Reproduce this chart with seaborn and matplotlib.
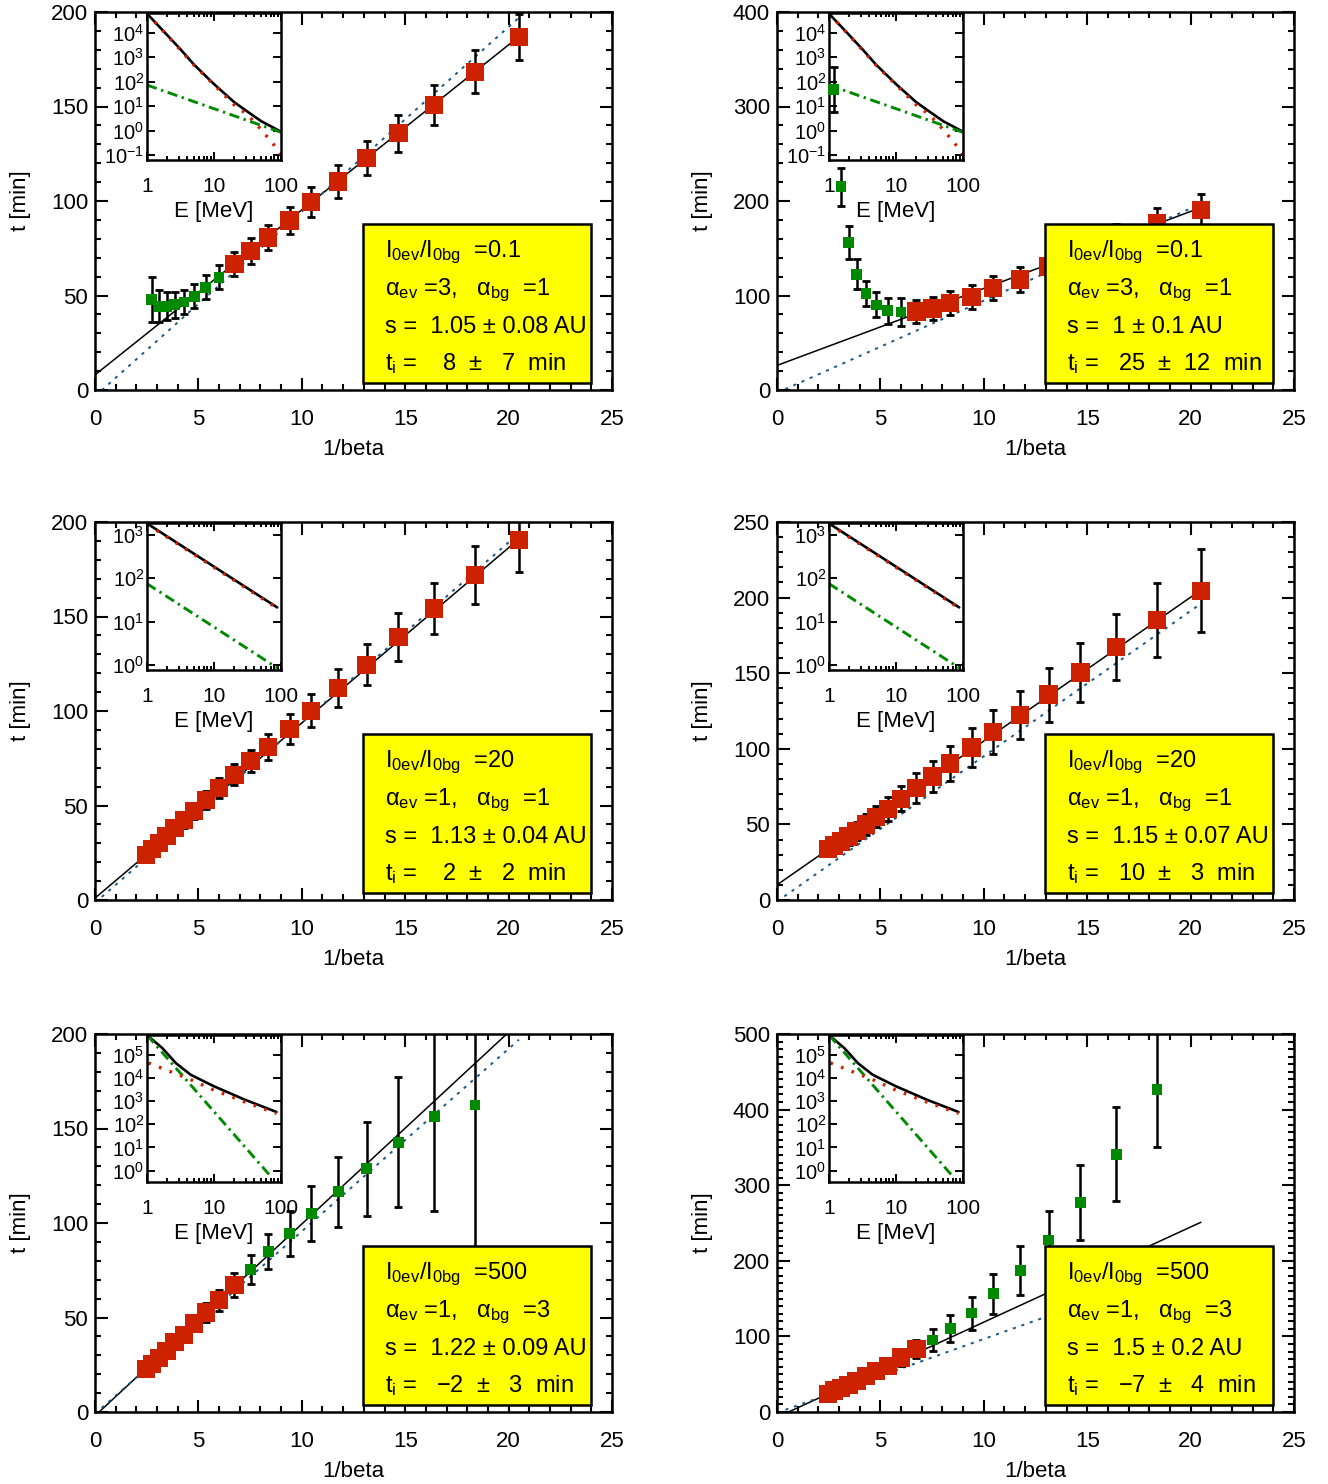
import matplotlib
matplotlib.use("Agg")
import matplotlib.pyplot as plt
import seaborn as sns
from matplotlib.patches import Rectangle
from matplotlib.ticker import MultipleLocator, LogLocator, NullLocator, FixedLocator

sns.set_theme(style="ticks")
plt.rcParams["font.family"] = ["Liberation Sans", "DejaVu Sans"]
plt.rcParams["mathtext.fontset"] = "custom"
plt.rcParams["mathtext.rm"] = "Liberation Sans"
plt.rcParams["mathtext.it"] = "Liberation Sans:italic"
plt.rcParams["mathtext.bf"] = "Liberation Sans:bold"
plt.rcParams["mathtext.default"] = "regular"
plt.rcParams["axes.edgecolor"] = "black"
plt.rcParams["xtick.color"] = "black"
plt.rcParams["ytick.color"] = "black"
plt.rcParams["text.color"] = "black"
plt.rcParams["axes.labelcolor"] = "black"

RED = "#cc2200"
GREEN = "#008a00"
BLUE = "#1d5884"
YELLOW = "#ffff00"

# 1/beta of the energy channels (same channels in every panel)
inv_beta = [2.46, 2.75, 3.10, 3.46, 3.85, 4.30, 4.80, 5.36, 6.00, 6.74,
            7.52, 8.38, 9.41, 10.46, 11.76, 13.13, 14.67, 16.40, 18.37, 20.50]

# fitted line (black) and reference line (blue dotted) end points
line_x = [0.0, 20.5]

# ---- panel 1 : I0ev/I0bg = 0.1, alpha_ev = 3, alpha_bg = 1
p1_green_t = [48.0, 44.3, 44.3, 45.2, 46.6, 49.6, 54.4, 59.7]
p1_green_err = [12.0, 8.4, 7.5, 6.9, 6.3, 6.4, 6.4, 6.4]
p1_red_t = [66.7, 73.5, 80.7, 89.7, 99.5, 110.3, 122.7, 135.9, 150.9, 168.4, 186.7]
p1_red_err = [6.3, 6.8, 6.8, 7.3, 8.0, 8.5, 9.0, 9.8, 10.6, 11.3, 12.0]
p1_fit = [8.0, 187.0]
p1_ref = [-3.3, 197.0]

# ---- panel 2 : I0ev/I0bg = 0.1, alpha_ev = 3, alpha_bg = 1
p2_green_t = [318.0, 215.0, 156.0, 122.5, 102.5, 90.0, 84.0, 82.5]
p2_green_err = [23.5, 19.8, 17.1, 15.9, 13.2, 13.2, 13.8, 14.5]
p2_red_t = [83.1, 86.4, 92.2, 98.3, 107.8, 116.9, 130.5, 146.0, 161.0, 177.0, 190.8]
p2_red_err = [12.0, 12.0, 12.5, 13.0, 13.0, 13.5, 14.0, 14.5, 15.0, 15.5, 16.5]
p2_fit = [26.0, 193.0]
p2_ref = [-3.0, 197.0]

# ---- panel 3 : I0ev/I0bg = 20, alpha_ev = 1, alpha_bg = 1
p3_red_t = [23.9, 27.1, 30.1, 33.8, 38.0, 42.3, 47.0, 52.8, 59.2, 66.2,
            73.6, 80.8, 90.4, 100.1, 112.2, 124.5, 139.3, 154.3, 171.8, 190.5]
p3_red_err = [3.0, 3.2, 3.4, 3.6, 3.8, 4.0, 4.3, 4.8, 5.4, 5.5,
              6.0, 6.8, 7.9, 8.7, 10.2, 11.0, 12.7, 13.6, 15.3, 17.0]
p3_fit = [1.0, 191.0]
p3_ref = [-1.5, 194.0]

# ---- panel 4 : I0ev/I0bg = 20, alpha_ev = 1, alpha_bg = 1
p4_red_t = [33.6, 36.0, 38.6, 42.0, 45.7, 50.0, 55.0, 60.3, 67.0, 73.9,
            81.7, 90.3, 100.9, 111.2, 122.5, 135.8, 150.4, 167.4, 185.2, 204.5]
p4_red_err = [4.3, 4.7, 5.1, 5.6, 6.2, 6.7, 7.0, 7.8, 8.3, 9.8,
              10.5, 11.8, 12.9, 14.5, 15.8, 17.9, 19.7, 21.9, 24.3, 27.5]
p4_fit = [10.0, 205.0]
p4_ref = [-1.0, 196.0]

# ---- panel 5 : I0ev/I0bg = 500, alpha_ev = 1, alpha_bg = 3
p5_red_t = [22.8, 25.3, 28.7, 32.2, 36.9, 40.9, 46.9, 52.6, 59.2, 67.1]
p5_red_err = [2.5, 2.7, 2.9, 3.1, 3.4, 3.7, 4.1, 5.0, 5.6, 6.3]
p5_green_t = [75.2, 84.8, 94.5, 105.1, 116.6, 128.7, 142.7, 156.4, 162.4]
p5_green_err = [7.7, 9.4, 12.0, 14.5, 18.5, 25.0, 34.4, 50.0, 90.0]
p5_fit = [-2.0, 206.0]
p5_ref = [-1.0, 197.0]

# ---- panel 6 : I0ev/I0bg = 500, alpha_ev = 1, alpha_bg = 3
p6_red_t = [24.1, 28.4, 31.9, 35.8, 41.4, 47.4, 53.9, 61.2, 72.0, 83.6]
p6_red_err = [5.0, 5.5, 6.0, 6.5, 7.0, 7.5, 8.5, 9.5, 10.5, 12.0]
p6_green_t = [95.3, 110.3, 130.8, 156.4, 187.2, 227.4, 276.9, 341.0, 427.0]
p6_green_err = [14.5, 17.7, 21.8, 26.7, 32.7, 38.9, 49.8, 62.0, 76.0]
p6_fit = [-7.0, 251.0]
p6_ref = [-1.0, 199.0]

# ---- inset spectra (E in MeV, intensity)
specA_tot_E = [1, 2, 3.2, 5, 10, 20, 32, 51, 100]
specA_tot_F = [5.9e4, 7.9e3, 2.0e3, 5.0e2, 79, 14.5, 5.8, 2.4, 0.9]
specA_ev_E = [1, 2, 5, 10, 20, 32, 51, 75, 100]
specA_ev_F = [5.9e4, 7.6e3, 4.8e2, 74, 11.2, 4.3, 1.07, 0.31, 0.105]
specA_bg_E = [1, 100]
specA_bg_F = [72, 0.85]

specB_tot_E = [1, 88]
specB_tot_F = [1850, 21.2]
specB_ev_E = [1, 88]
specB_ev_F = [1780, 20.4]
specB_bg_E = [1, 88]
specB_bg_F = [75, 0.85]

specC_tot_E = [1, 1.7, 2.7, 4.5, 10, 28.6, 86]
specC_tot_F = [7.2e5, 1.95e5, 4.4e4, 1.38e4, 4.4e3, 1.17e3, 340]
specC_ev_E = [1.05, 4.5, 10, 28.6, 86]
specC_ev_F = [4.5e4, 8.5e3, 3.0e3, 930, 295]
specC_bg_E = [1, 72]
specC_bg_F = [7.2e5, 0.52]

# ---- text box contents
ratio_txt = ["0.1", "0.1", "20", "20", "500", "500"]
alpha_ev_txt = ["3", "3", "1", "1", "1", "1"]
alpha_bg_txt = ["1", "1", "1", "1", "3", "3"]
s_txt = ["1.05 \u00b1 0.08", "1 \u00b1 0.1", "1.13 \u00b1 0.04",
         "1.15 \u00b1 0.07", "1.22 \u00b1 0.09", "1.5 \u00b1 0.2"]
ti_txt = ["  8  \u00b1   7", " 25  \u00b1  12", "  2  \u00b1   2",
          " 10  \u00b1   3", " \u22122  \u00b1   3", " \u22127  \u00b1   4"]

spectra = {
    "A": dict(tot=(specA_tot_E, specA_tot_F), ev=(specA_ev_E, specA_ev_F),
              bg=(specA_bg_E, specA_bg_F), ylim=(0.063, 6.3e4),
              decades=[0.1, 1, 10, 100, 1e3, 1e4]),
    "B": dict(tot=(specB_tot_E, specB_tot_F), ev=(specB_ev_E, specB_ev_F),
              bg=(specB_bg_E, specB_bg_F), ylim=(0.76, 1900),
              decades=[1, 10, 100, 1e3]),
    "C": dict(tot=(specC_tot_E, specC_tot_F), ev=(specC_ev_E, specC_ev_F),
              bg=(specC_bg_E, specC_bg_F), ylim=(0.32, 7.3e5),
              decades=[1, 10, 100, 1e3, 1e4, 1e5]),
}

panels = [
    dict(ymax=200, ymaj=50, ymin=10, spec="A", fit=p1_fit, ref=p1_ref,
         green=(inv_beta[1:9], p1_green_t, p1_green_err),
         red=(inv_beta[9:], p1_red_t, p1_red_err)),
    dict(ymax=400, ymaj=100, ymin=20, spec="A", fit=p2_fit, ref=p2_ref,
         green=(inv_beta[1:9], p2_green_t, p2_green_err),
         red=(inv_beta[9:], p2_red_t, p2_red_err)),
    dict(ymax=200, ymaj=50, ymin=10, spec="B", fit=p3_fit, ref=p3_ref,
         red=(inv_beta, p3_red_t, p3_red_err)),
    dict(ymax=250, ymaj=50, ymin=10, spec="B", fit=p4_fit, ref=p4_ref,
         red=(inv_beta, p4_red_t, p4_red_err)),
    dict(ymax=200, ymaj=50, ymin=10, spec="C", fit=p5_fit, ref=p5_ref,
         red=(inv_beta[:10], p5_red_t, p5_red_err),
         green=(inv_beta[10:19], p5_green_t, p5_green_err)),
    dict(ymax=500, ymaj=100, ymin=10, spec="C", fit=p6_fit, ref=p6_ref,
         red=(inv_beta[:10], p6_red_t, p6_red_err),
         green=(inv_beta[10:19], p6_green_t, p6_green_err)),
]

W, H = 1328, 1484
fig = plt.figure(figsize=(W / 100, H / 100), dpi=100)

col_left = [95 / W, 777 / W]
row_bottom = [1 - 390 / H, 1 - 900 / H, 1 - 1412 / H]
ax_w = 517 / W
ax_h = 378 / H

LW = 1.8


def draw_inset(ax, spec):
    ins = ax.inset_axes([0.1006, 0.6085, 0.259, 0.389])
    ins.set_zorder(1)
    ins.set_xscale("log")
    ins.set_yscale("log")
    sns.lineplot(x=spec["tot"][0], y=spec["tot"][1], color="black", lw=1.9,
                 estimator=None, sort=False, ax=ins)
    sns.lineplot(x=spec["bg"][0], y=spec["bg"][1], color=GREEN, lw=2.1,
                 linestyle=(0, (3.5, 1.6, 0.8, 1.6)), estimator=None, sort=False, ax=ins)
    sns.lineplot(x=spec["ev"][0], y=spec["ev"][1], color=RED, lw=2.4,
                 linestyle=(0, (0.8, 2.6)), estimator=None, sort=False, ax=ins)
    ins.set_xlim(1, 100)
    ins.set_ylim(*spec["ylim"])
    ins.set_xticks([1, 10, 100], labels=["1", "10", "100"])
    ins.xaxis.set_minor_locator(LogLocator(base=10, subs=range(2, 10), numticks=20))
    ins.yaxis.set_major_locator(FixedLocator(spec["decades"]))
    ins.yaxis.set_minor_locator(NullLocator())
    ins.tick_params(which="both", direction="in", top=True, right=True, width=1.4)
    ins.tick_params(which="major", length=6)
    ins.tick_params(which="minor", length=3)
    ins.tick_params(axis="x", labelsize=15, pad=12)
    ins.tick_params(axis="y", labelsize=14.5, pad=2)
    ins.set_xlabel("E [MeV]", fontsize=16, labelpad=4)
    ins.set_ylabel("")
    for sp in ins.spines.values():
        sp.set_linewidth(LW)


def draw_panel(ax, k, p):
    sns.lineplot(x=line_x, y=p["fit"], color="black", lw=1.1,
                 estimator=None, sort=False, ax=ax, zorder=2)
    sns.lineplot(x=line_x, y=p["ref"], color=BLUE, lw=1.4,
                 linestyle=(0, (1.6, 3.0)), estimator=None, sort=False, ax=ax, zorder=2)
    for key, color, size in (("green", GREEN, 60), ("red", RED, 175)):
        if key not in p:
            continue
        x, t, err = p[key]
        ax.errorbar(x, t, yerr=err, fmt="none", ecolor="black", elinewidth=1.8,
                    capsize=2.8, capthick=2.0, zorder=3)
        sns.scatterplot(x=x, y=t, marker="s", s=size, color=color,
                        edgecolor="none", linewidth=0, ax=ax, zorder=4)

    ax.set_xlim(0, 25)
    ax.set_ylim(0, p["ymax"])
    ax.xaxis.set_major_locator(MultipleLocator(5))
    ax.xaxis.set_minor_locator(MultipleLocator(1))
    ax.yaxis.set_major_locator(MultipleLocator(p["ymaj"]))
    ax.yaxis.set_minor_locator(MultipleLocator(p["ymin"]))
    ax.tick_params(which="both", direction="in", top=True, right=True, width=1.5)
    ax.tick_params(which="major", length=9)
    ax.tick_params(which="minor", length=4.5)
    ax.tick_params(axis="x", labelsize=16, pad=14)
    ax.tick_params(axis="y", labelsize=16, pad=5)
    ax.set_xlabel("1/beta", fontsize=16, labelpad=6)
    ax.set_ylabel("t [min]", fontsize=16, labelpad=14)
    for sp in ax.spines.values():
        sp.set_linewidth(LW)

    draw_inset(ax, spectra[p["spec"]])

    ax.add_patch(Rectangle((0.518, 0.0185), 0.441, 0.42, transform=ax.transAxes,
                           facecolor=YELLOW, edgecolor="black", lw=LW, zorder=6))
    lines = [
        r"$I_{0ev}/I_{0bg}$  =" + ratio_txt[k],
        r"$\alpha_{ev}$ =" + alpha_ev_txt[k] + r",   $\alpha_{bg}$  =" + alpha_bg_txt[k],
        "s =  " + s_txt[k] + " AU",
        r"$t_i$ =  " + ti_txt[k] + "  min",
    ]
    for txt, yy in zip(lines, [0.352, 0.251, 0.151, 0.053]):
        ax.text(0.561, yy, txt, transform=ax.transAxes, fontsize=17,
                va="baseline", ha="left", zorder=7)


for k, p in enumerate(panels):
    r, c = divmod(k, 2)
    ax = fig.add_axes([col_left[c], row_bottom[r], ax_w, ax_h])
    draw_panel(ax, k, p)

fig.savefig("out.png", dpi=100)
